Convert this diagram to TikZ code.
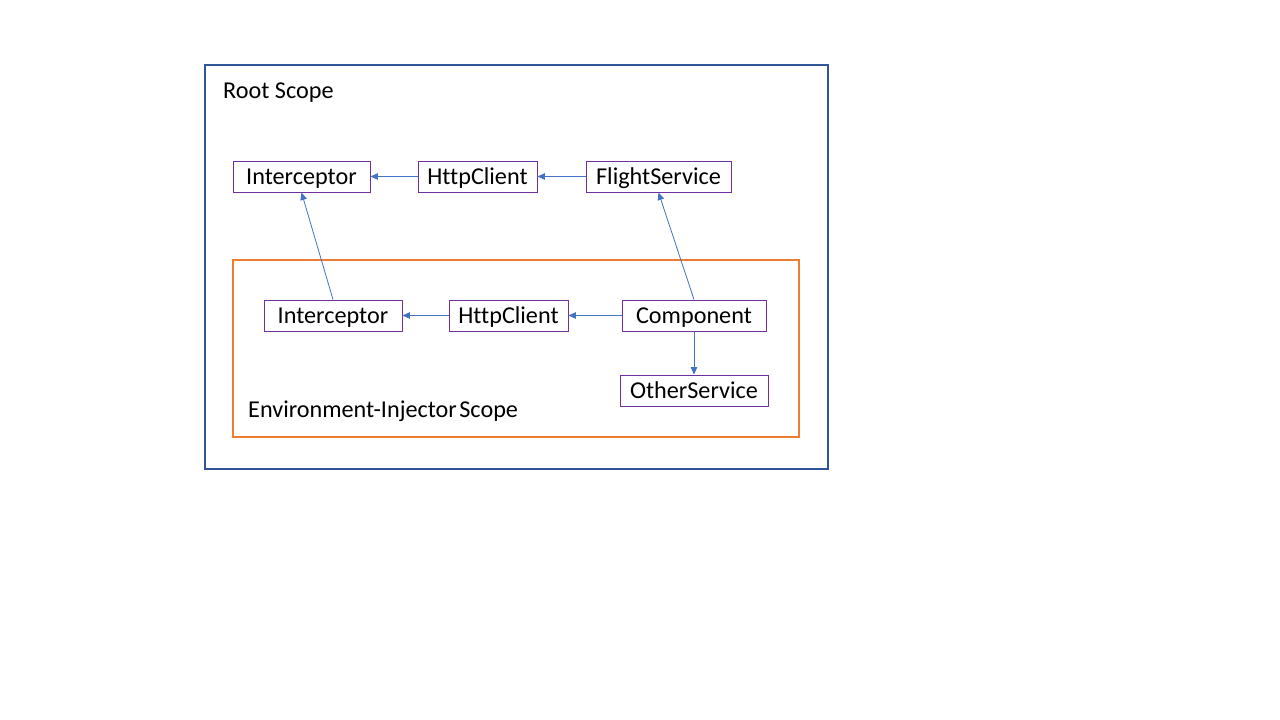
\documentclass[tikz,border=0pt]{standalone}
\usepackage{fontspec}
\setmainfont[Ligatures=NoCommon]{Carlito}
\usetikzlibrary{arrows.meta}
\definecolor{rootblue}{HTML}{2F5597}
\definecolor{envorange}{HTML}{ED7D31}
\definecolor{boxpurple}{HTML}{7030A0}
\definecolor{arrowblue}{HTML}{4472C4}
\begin{document}
\begin{tikzpicture}[x=1pt,y=-1pt,
  svc/.style={draw=boxpurple,line width=0.9pt,fill=white,inner sep=0pt,
    minimum height=31pt,text height=18pt,text depth=2pt,
    font=\fontsize{24.2}{28}\selectfont},
  lbl/.style={inner sep=0pt,anchor=base west,font=\fontsize{24.2}{28}\selectfont},
  dep/.style={draw=arrowblue,line width=0.8pt,-{Triangle[length=7.5pt,width=6.5pt]}}]
\useasboundingbox (0,0) rectangle (1280,720);
\fill[white] (0,0) rectangle (1280,720);
% scopes
\draw[rootblue,line width=1.8pt] (205,65) rectangle (828,469);
\node[lbl] (rootlbl) at (223,98.5) {Root Scope};
\draw[envorange,line width=1.8pt] (233,260) rectangle (799,437);
\node[lbl] (envlbl) at (248,417.5) {Environment-Injector\hspace{-3pt} Scope};
% root nodes
\node[svc,minimum width=137pt] (i1) at (301.5,176.5) {Interceptor};
\node[svc,minimum width=119pt] (h1) at (477.5,176.5) {HttpClient};
\node[svc,minimum width=145pt] (f) at (658.5,176.5) {FlightService};
% env nodes
\node[svc,minimum width=138pt] (i2) at (333,315.5) {Interceptor};
\node[svc,minimum width=119pt] (h2) at (508.5,315.5) {HttpClient};
\node[svc,minimum width=144pt] (c) at (694,315.5) {Component};
\node[svc,minimum width=148pt] (o) at (694,390.5) {OtherService};
% arrows
\draw[dep] (h1.west) -- (i1.east);
\draw[dep] (f.west) -- (h1.east);
\draw[dep] (h2.west) -- (i2.east);
\draw[dep] (c.west) -- (h2.east);
\draw[dep] (c.south) -- (o.north);
\draw[dep] (i2.north) -- (i1.south);
\draw[dep] (c.north) -- (f.south);
\end{tikzpicture}
\end{document}
